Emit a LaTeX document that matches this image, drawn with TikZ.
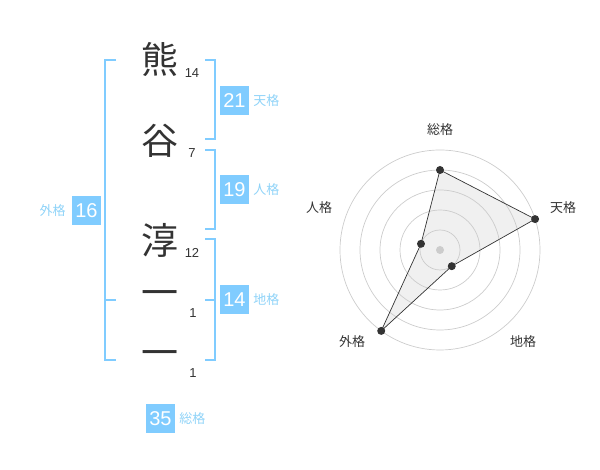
\documentclass[tikz,border=0pt]{standalone}
\usepackage{fontspec}
\setmainfont{Liberation Sans}
\newfontfamily\jpfont{Noto Sans CJK JP}
\usepackage{xcolor}
\usetikzlibrary{positioning}

\definecolor{kakublue}{HTML}{80CCFF}
\definecolor{kakulabel}{HTML}{8FD3F8}
\definecolor{inkgray}{HTML}{333333}
\definecolor{ringgray}{HTML}{CCCCCC}
\definecolor{areagray}{HTML}{F0F0F0}

\tikzset{
  kanji/.style={font=\jpfont\fontsize{37}{37}\selectfont, text=inkgray, inner sep=0pt},
  strokes/.style={font=\fontsize{13}{13}\selectfont, text=inkgray, inner sep=0pt},
  kakubox/.style={fill=kakublue, text=white, minimum size=29pt, inner sep=0pt, font=\fontsize{20}{20}\selectfont},
  kakuname/.style={text=kakulabel, font=\jpfont\fontsize{13}{13}\selectfont, inner sep=0pt},
  bracket/.style={draw=kakublue, line width=2pt},
  ring/.style={draw=ringgray, line width=0.7pt},
  axisname/.style={text=inkgray, font=\jpfont\fontsize{13}{13}\selectfont, inner sep=0pt},
  dot/.style={circle, fill=inkgray, inner sep=0pt, minimum size=8pt},
}

\begin{document}
\begin{tikzpicture}[x=1pt, y=1pt]
\useasboundingbox (0,0) rectangle (600,470);

% name, one character per line
\node[kanji] (kuma) at (160,410.5) {熊};
\node[kanji] (tani) at (160,329.5) {谷};
\node[kanji] (jun) at (160,230) {淳};
\node[kanji] (ichi) at (160,171) {一};
\node[kanji] (ni) at (160,111) {一};

% stroke counts
\node[strokes] (s1) at (192,397) {14};
\node[strokes] (s2) at (192,317) {7};
\node[strokes] (s3) at (192,217) {12};
\node[strokes] (s4) at (193,157) {1};
\node[strokes] (s5) at (193,97) {1};

% brackets
\draw[bracket] (116,410) -- (105,410) -- (105,110) -- (116,110);
\draw[bracket] (105,170) -- (116,170);
\draw[bracket] (205,410) -- (215,410) -- (215,330.5) -- (205,330.5);
\draw[bracket] (205,320) -- (215,320) -- (215,241) -- (205,241);
\draw[bracket] (205,231) -- (215,231) -- (215,110) -- (205,110);
\draw[bracket] (205,170) -- (215,170);

% totals
\node[kakubox] (ten) at (234.5,369.5) {21};
\node[kakuname, right=4pt of ten] (tenlabel) {天格};
\node[kakubox] (jin) at (234.5,280) {19};
\node[kakuname, right=4pt of jin] (jinlabel) {人格};
\node[kakubox] (chi) at (234.5,170) {14};
\node[kakuname, right=4pt of chi] (chilabel) {地格};
\node[kakubox] (gai) at (86.5,259.5) {16};
\node[kakuname, left=6pt of gai] (gailabel) {外格};
\node[kakubox] (sou) at (160.5,51) {35};
\node[kakuname, right=4pt of sou] (soulabel) {総格};

% radar chart
\begin{scope}[shift={(440,220)}]
\coordinate (rsou) at (90:80pt);
\coordinate (rten) at (18:100pt);
\coordinate (rchi) at (-54:20pt);
\coordinate (rgai) at (234:100pt);
\coordinate (rjin) at (162:20pt);
\fill[areagray] (rsou) -- (rten) -- (rchi) -- (rgai) -- (rjin) -- cycle;
\foreach \r in {20,40,...,100}
  \draw[ring] (0,0) circle[radius=\r pt];
\fill[ringgray] (0,0) circle[radius=4pt];
\draw[inkgray, line width=0.7pt] (rsou) -- (rten) -- (rchi) -- (rgai) -- (rjin) -- cycle;
\foreach \p in {rsou,rten,rchi,rgai,rjin}
  \node[dot] at (\p) {};
\node[axisname] (asou) at (0,120) {総格};
\node[axisname] (aten) at (123,42) {天格};
\node[axisname] (achi) at (83,-92) {地格};
\node[axisname] (agai) at (-88,-92) {外格};
\node[axisname] (ajin) at (-121,42) {人格};
\end{scope}
\end{tikzpicture}
\end{document}
